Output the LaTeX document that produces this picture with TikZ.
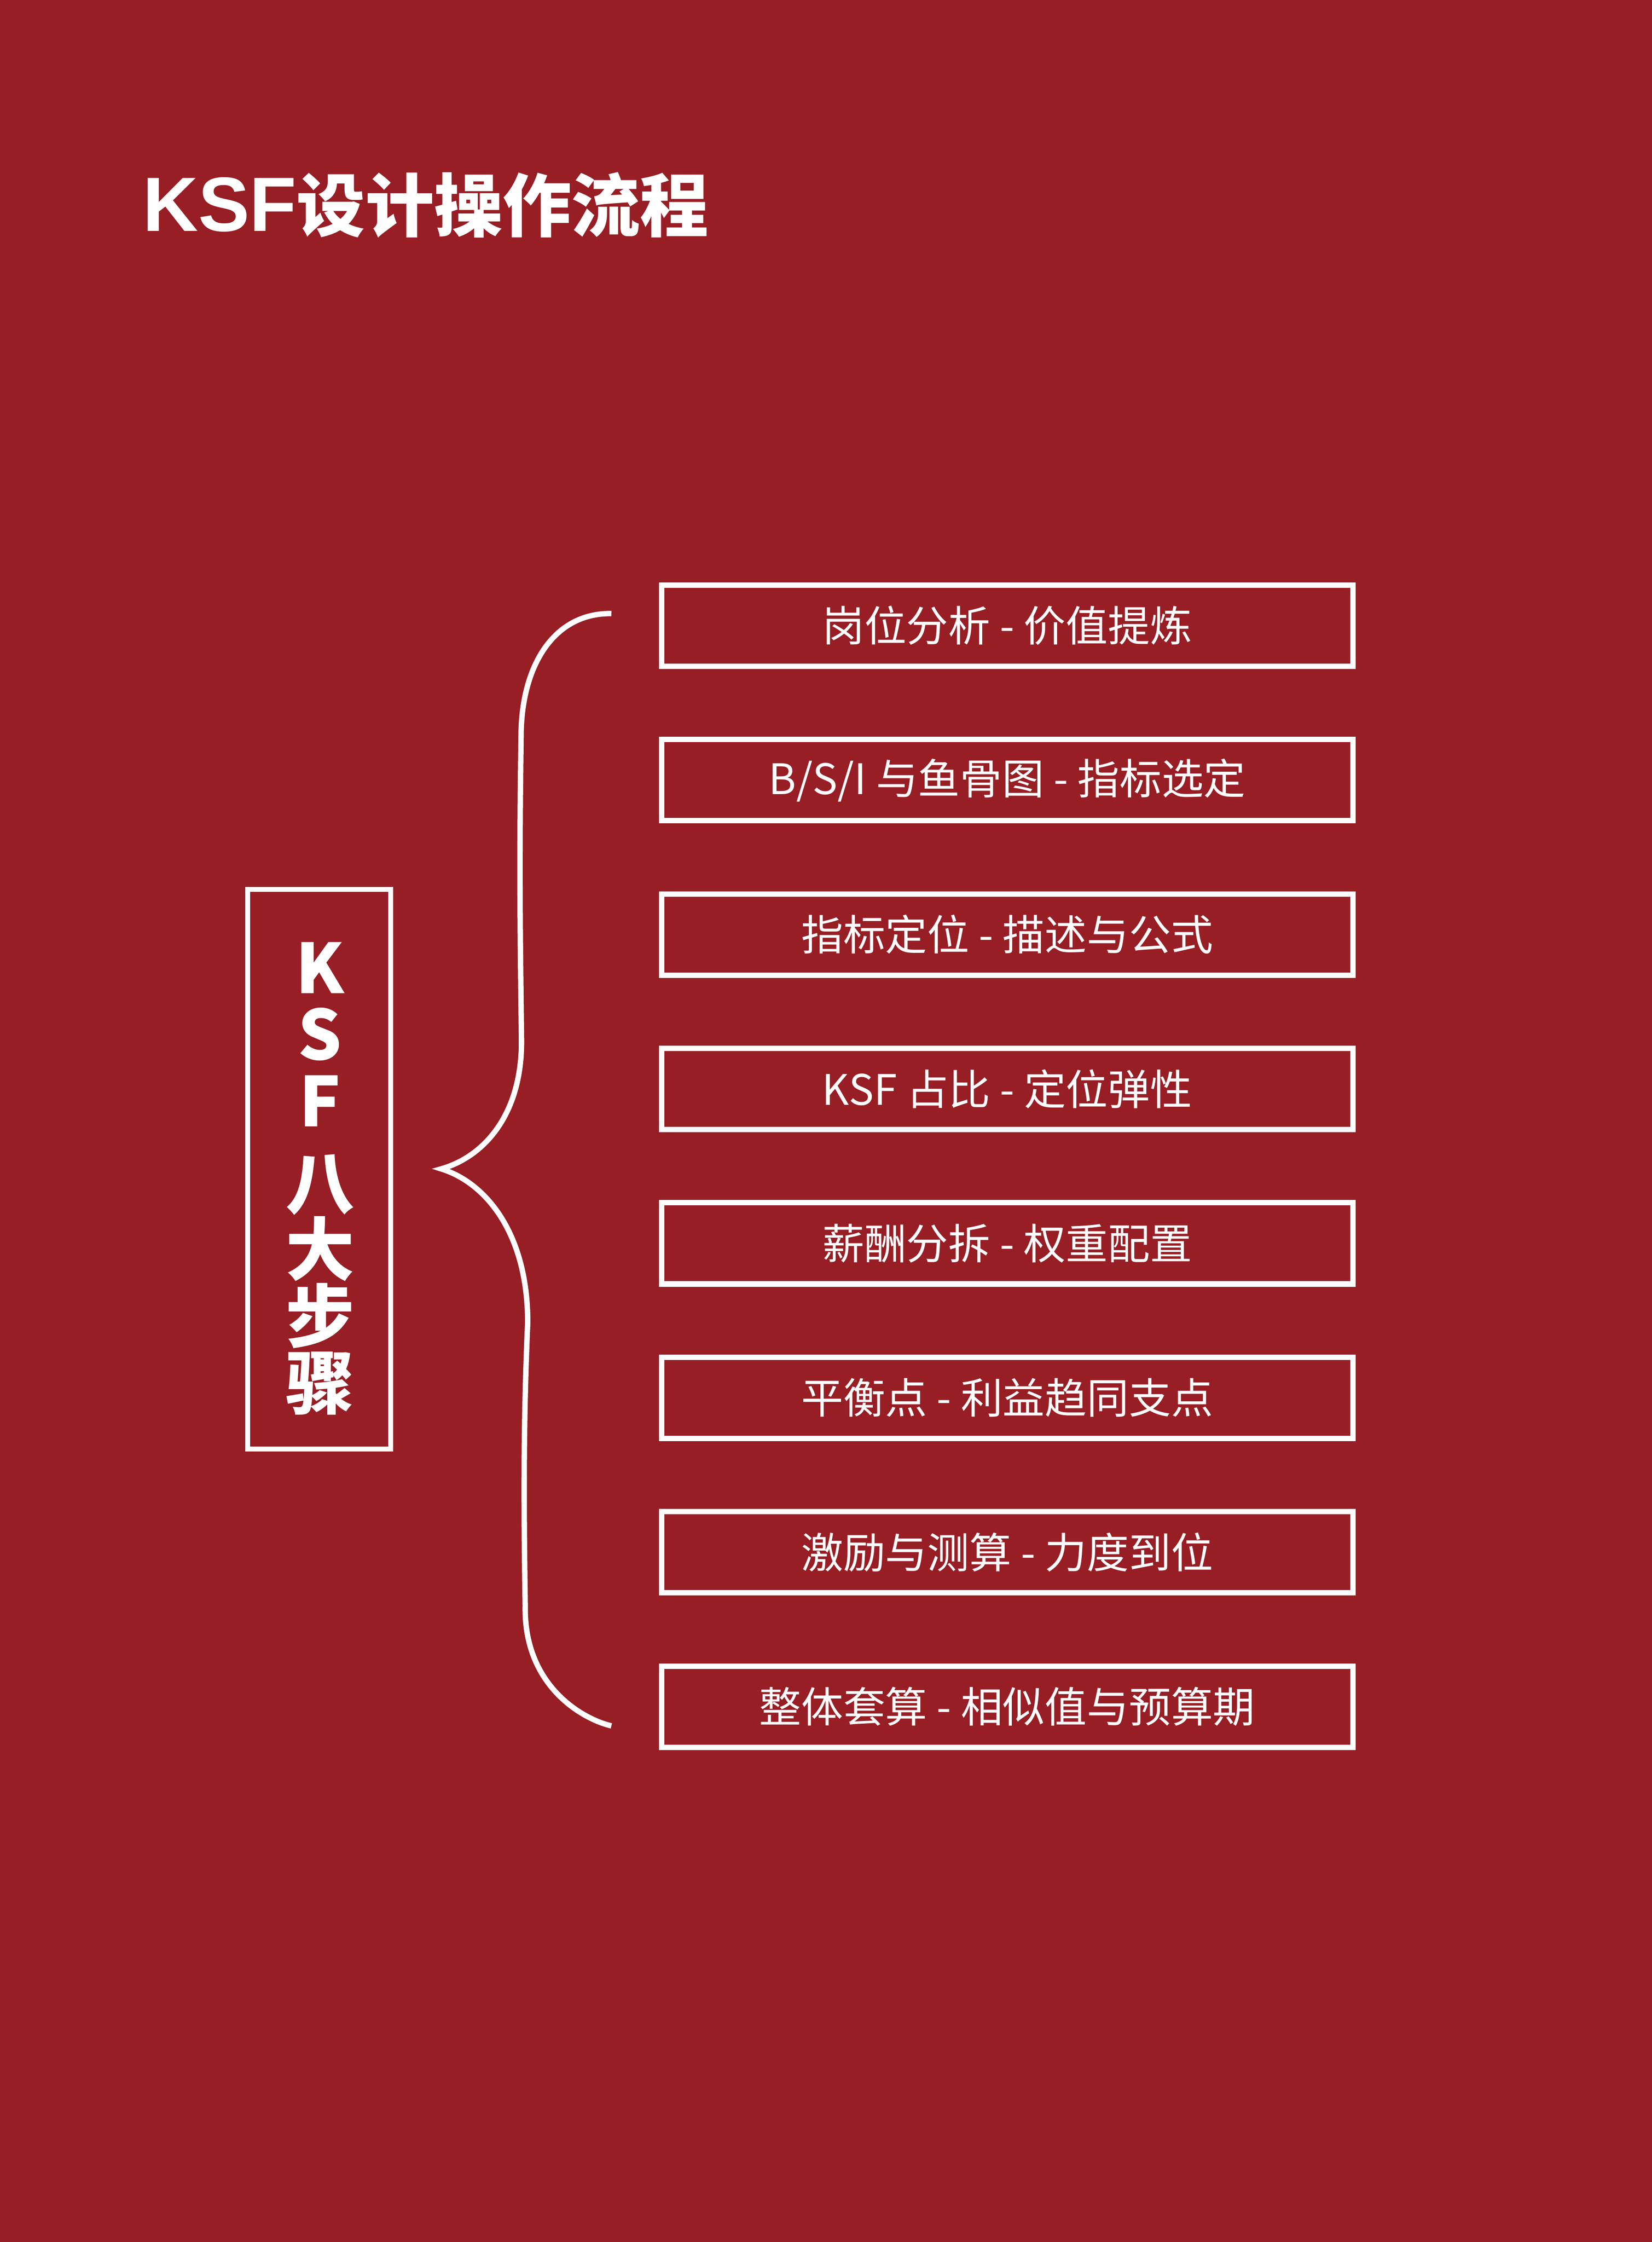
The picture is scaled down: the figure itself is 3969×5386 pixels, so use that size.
\documentclass[tikz,border=0pt]{standalone}
\usepackage{fontspec}
\newfontfamily\cjk{Noto Sans CJK SC}
\newfontfamily\latb{Liberation Sans}
\definecolor{bg}{RGB}{151,30,36}
\tikzset{
  stepbox/.style={draw=white, line width=2.6pt, minimum width=332.2pt, minimum height=39pt, inner sep=0pt, text=white, font=\cjk\fontsize{20.2pt}{24pt}\selectfont},
  leftbox/.style={draw=white, line width=2.4pt, minimum width=68.8pt, minimum height=268.8pt, inner sep=0pt},
  vtext/.style={text=white, inner sep=0pt, anchor=center, font=\cjk\bfseries\fontsize{33pt}{36pt}\selectfont},
  bracepath/.style={draw=white, line width=2.6pt, line join=miter, miter limit=20},
}
\begin{document}
\begin{tikzpicture}[x=0.2pt,y=-0.2pt]
\fill[bg] (0,0) rectangle (3969,5386);
\useasboundingbox (0,0) rectangle (3969,5386);

% title
\node[anchor=base west, inner sep=0pt, text=white] (title) at (342,555) {{\latb\bfseries\fontsize{37pt}{40pt}\selectfont KSF}{\cjk\bfseries\fontsize{33pt}{36pt}\selectfont 设计操作流程}};

% left box
\node[leftbox] (left) at (767,2809) {};
\node[vtext] (v1) at (769,2325) {K};
\node[vtext] (v2) at (769,2485) {S};
\node[vtext] (v3) at (769,2645) {F};
\node[vtext] (v4) at (769,2846) {八};
\node[vtext] (v5) at (769,3000) {大};
\node[vtext] (v6) at (769,3161) {步};
\node[vtext] (v7) at (769,3323) {骤};

% step boxes
\node[stepbox] (s1) at (2420,1503) {岗位分析 - 价值提炼};
\node[stepbox] (s2) at (2420,1874) {B/S/I 与鱼骨图 - 指标选定};
\node[stepbox] (s3) at (2420,2245) {指标定位 - 描述与公式};
\node[stepbox] (s4) at (2420,2616) {KSF 占比 - 定位弹性};
\node[stepbox] (s5) at (2420,2987) {薪酬分拆 - 权重配置};
\node[stepbox] (s6) at (2420,3358) {平衡点 - 利益趋同支点};
\node[stepbox] (s7) at (2420,3729) {激励与测算 - 力度到位};
\node[stepbox] (s8) at (2420,4100) {整体套算 - 相似值与预算期};

% brace
\coordinate (btop) at (1469,1474);
\coordinate (btip) at (1060,2808);
\coordinate (bbot) at (1469,4146);
\draw[bracepath] (btop) .. controls (1330,1472) and (1253,1600) .. (1252,1767)
  .. controls (1248,2050) and (1249,2200) .. (1253,2494)
  .. controls (1256,2680) and (1160,2780) .. (btip)
  .. controls (1165,2840) and (1268,2960) .. (1268,3177)
  .. controls (1258,3400) and (1258,3600) .. (1262,3857)
  .. controls (1258,4050) and (1400,4130) .. (bbot);
\end{tikzpicture}
\end{document}
